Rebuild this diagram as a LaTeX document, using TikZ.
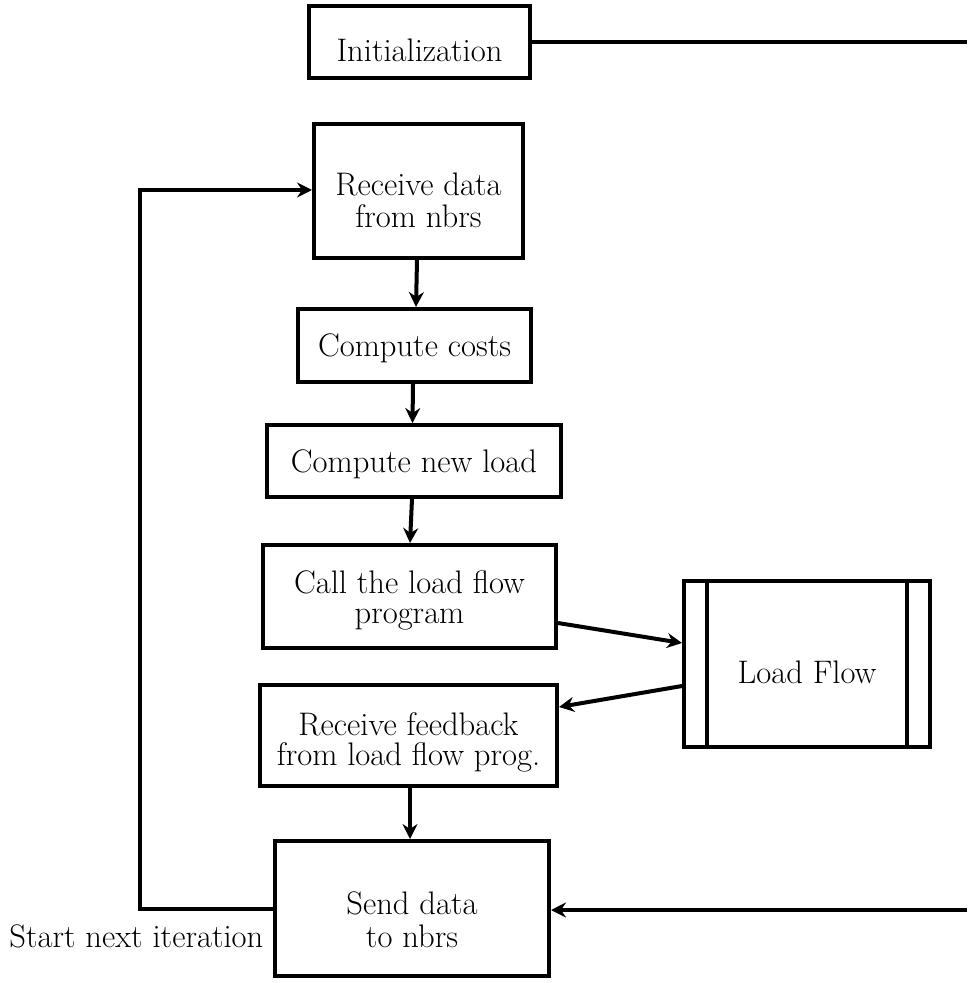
\documentclass[tikz,border=0pt]{standalone}
\usetikzlibrary{arrows.meta}

\tikzset{
  stepbox/.style={draw, line width=2pt, inner sep=0pt, minimum width=#1},
  lbl/.style={inner sep=0pt, align=center, font=\fontsize{16.3}{15.5}\selectfont},
  arr/.style={line width=2pt, -{Stealth[length=7.5pt, width=7.5pt, inset=2.5pt]}},
  wire/.style={line width=2pt},
}

\begin{document}
\begin{tikzpicture}[x=0.5pt, y=-0.5pt]
  \useasboundingbox (0,0) rectangle (967,983);

  % process boxes (pixel grid, y grows downwards)
  \node[stepbox=221*0.5pt, minimum height=36pt] (init) at (419.5,42) {};
  \node[lbl] (initT) at (419.5,50) {Initialization};

  \node[stepbox=209*0.5pt, minimum height=67pt] (recv) at (418.5,191) {};
  \node[lbl, font=\fontsize{16.3}{16}\selectfont] (recvT) at (418.5,200) {Receive data\\from nbrs};

  \node[stepbox=233*0.5pt, minimum height=36.5pt] (costs) at (414.5,345.5) {};
  \node[lbl] (costsT) at (414.5,348) {Compute costs};

  \node[stepbox=294*0.5pt, minimum height=36pt] (newload) at (414,461) {};
  \node[lbl] (newloadT) at (414,464) {Compute new load};

  \node[stepbox=293*0.5pt, minimum height=51.5pt] (call) at (409.5,596.5) {};
  \node[lbl, font=\fontsize{16.3}{15}\selectfont] (callT) at (409.5,600) {Call the load flow\\program};

  \node[stepbox=297*0.5pt, minimum height=50.5pt] (fb) at (408.5,735.5) {};
  \node[lbl, font=\fontsize{16.3}{15}\selectfont] (fbT) at (408.5,742) {Receive feedback\\from load flow prog.};

  \node[stepbox=274*0.5pt, minimum height=67.5pt] (send) at (412,908.5) {};
  \node[lbl, font=\fontsize{16.3}{16.5}\selectfont] (sendT) at (412,920) {Send data\\to nbrs};

  % predefined process: load flow program
  \node[stepbox=246*0.5pt, minimum height=83pt] (lf) at (807,664) {};
  \draw[wire] (lf.north west -| 707,0) -- (lf.south west -| 707,0);
  \draw[wire] (lf.north east -| 907,0) -- (lf.south east -| 907,0);
  \node[lbl] (lfT) at (807,672) {Load Flow};

  \node[lbl, anchor=base west] (iter) at (9,947) {Start next iteration};

  % free ends at the right border and loop corners
  \coordinate (initOut) at (967,42);
  \coordinate (sendIn) at (967,910);
  \coordinate (loopLow) at (140,909);
  \coordinate (loopHigh) at (140,190);

  % main flow
  \draw[arr] (recv.south -| 417,0) -- (costs.north -| 416,0);
  \draw[arr] (costs.south -| 413,0) -- (newload.north -| 412.5,0);
  \draw[arr] (newload.south -| 412,0) -- (call.north -| 410,0);
  \draw[arr] (call.east |- 0,623) -- (lf.west |- 0,643);
  \draw[arr] (lf.west |- 0,686) -- (fb.east |- 0,707);
  \draw[arr] (fb.south -| 410,0) -- (send.north -| 410,0);

  % connections to the border and the iteration loop
  \draw[wire] (init.east) -- (initOut);
  \draw[arr] (sendIn) -- (send.east |- sendIn);
  \draw[arr] (send.west |- loopLow) -- (loopLow) -- (loopHigh) -- (recv.west |- loopHigh);
\end{tikzpicture}
\end{document}
